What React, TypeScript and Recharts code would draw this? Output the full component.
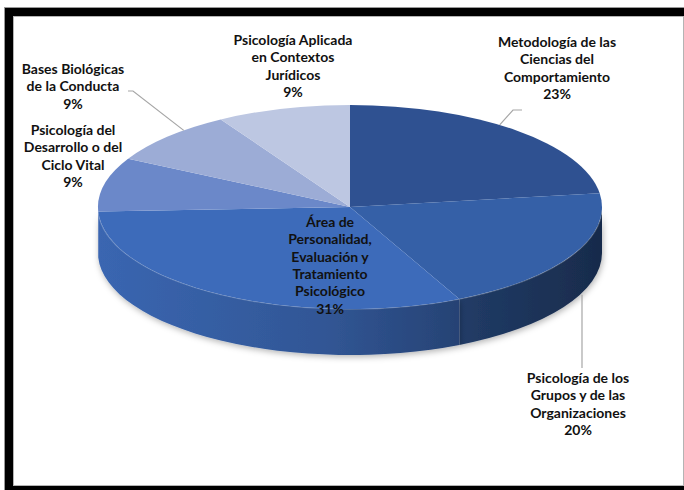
import React from "react";
import { PieChart, Pie, Cell } from "recharts";

// course areas, clockwise from 12 o'clock
const categories = [
  "Metodología de las Ciencias del Comportamiento",
  "Psicología de los Grupos y de las Organizaciones",
  "Área de Personalidad, Evaluación y Tratamiento Psicológico",
  "Psicología del Desarrollo o del Ciclo Vital",
  "Bases Biológicas de la Conducta",
  "Psicología Aplicada en Contextos Jurídicos",
];
const counts = [8, 7, 11, 3, 3, 3];
const labelLines = [
  ["Metodología de las", "Ciencias del", "Comportamiento"],
  ["Psicología de los", "Grupos y de las", "Organizaciones"],
  ["Área de", "Personalidad,", "Evaluación y", "Tratamiento", "Psicológico"],
  ["Psicología del", "Desarrollo o del", "Ciclo Vital"],
  ["Bases Biológicas", "de la Conducta"],
  ["Psicología Aplicada", "en Contextos", "Jurídicos"],
];
const colors = ["#2F5191", "#3560A7", "#3D6BBA", "#6B88C9", "#9CACD6", "#BDC7E2"];

const data = categories.map((name, i) => ({ name, value: counts[i] }));

// 3D look
const TILT = 102 / 252;
const DEPTH = 46;
const LINE_H = 17.3;

// label placement: text centre x, first line centre y,
// leader: angle nudge for the start on the rim + points after it
const LABEL_LAYOUT: { x: number; y: number; da?: number; leader?: number[][] | "down" }[] = [
  { x: 557, y: 42, da: 4.7, leader: [[513, 110], [522, 110]] },
  { x: 578, y: 378, da: 5.3, leader: "down" },
  { x: 330, y: 222 },
  { x: 73, y: 130 },
  { x: 73, y: 69, da: -5, leader: [[133, 91], [128, 91]] },
  { x: 293, y: 40 },
];

const rad = (a: number) => (a * Math.PI) / 180;
const pt = (cx: number, cy: number, r: number, a: number) => [
  cx + r * Math.cos(rad(a)),
  cy - r * TILT * Math.sin(rad(a)),
];

function shade(hex: string, k: number) {
  const n = parseInt(hex.slice(1), 16);
  const c = [(n >> 16) & 255, (n >> 8) & 255, n & 255].map((v) => Math.round(v * k));
  return `rgb(${c[0]},${c[1]},${c[2]})`;
}

function Slice(props: any) {
  const { cx, cy, outerRadius: r, startAngle, endAngle, fill } = props;
  const ry = r * TILT;
  const [x1, y1] = pt(cx, cy, r, startAngle);
  const [x2, y2] = pt(cx, cy, r, endAngle);
  const large = Math.abs(startAngle - endAngle) > 180 ? 1 : 0;
  const top = `M${cx},${cy} L${x1},${y1} A${r},${ry} 0 ${large} 1 ${x2},${y2} Z`;

  // front wall only where the rim faces us
  const hi = Math.min(startAngle, 0);
  const lo = Math.max(endAngle, -180);
  let wall = null;
  const gid = "wall" + String(fill).slice(1);
  if (hi > lo) {
    const [hx, hy] = pt(cx, cy, r, hi);
    const [lx, ly] = pt(cx, cy, r, lo);
    const d = `M${hx},${hy} A${r},${ry} 0 0 1 ${lx},${ly} L${lx},${ly + DEPTH} A${r},${ry} 0 0 0 ${hx},${hy + DEPTH} Z`;
    const rim = `M${hx},${hy} A${r},${ry} 0 0 1 ${lx},${ly}`;
    wall = (
      <g>
        <defs>
          <linearGradient id={gid} gradientUnits="userSpaceOnUse" x1={cx - r} y1={0} x2={cx + r} y2={0}>
            <stop offset="0" stopColor={shade(fill, 0.95)} />
            <stop offset="0.45" stopColor={shade(fill, 0.8)} />
            <stop offset="0.75" stopColor={shade(fill, 0.6)} />
            <stop offset="1" stopColor={shade(fill, 0.45)} />
          </linearGradient>
          <filter id={gid + "s"} x="-20%" y="-20%" width="140%" height="160%">
            <feDropShadow dx="1" dy="2" stdDeviation="3" floodColor="#000" floodOpacity="0.3" />
          </filter>
        </defs>
        <path d={d} fill={`url(#${gid})`} filter={`url(#${gid}s)`} />
        <path d={rim} fill="none" stroke="rgba(255,255,255,0.22)" strokeWidth={1.5} />
      </g>
    );
  }
  return (
    <g>
      {wall}
      <path d={top} fill={fill} />
    </g>
  );
}

function renderLabel(props: any) {
  const { index, percent, cx, cy, outerRadius: r, midAngle } = props;
  const lay = LABEL_LAYOUT[index];
  const lines = [...labelLines[index], `${Math.round(percent * 100)}%`];
  let leader = null;
  if (lay.leader) {
    const a = midAngle + (lay.da ?? 0);
    const [sx, sy0] = pt(cx, cy, r, a);
    const sy = Math.sin(rad(a)) < 0 ? sy0 + DEPTH + 2 : sy0;
    const pts =
      lay.leader === "down"
        ? [[sx, sy], [sx, lay.y - 10]]
        : [[sx, sy], ...lay.leader];
    leader = (
      <polyline
        points={pts.map((p) => p.join(",")).join(" ")}
        fill="none"
        stroke="#a6a6a6"
        strokeWidth={1.2}
      />
    );
  }
  return (
    <g key={`lbl${index}`}>
      {leader}
      <text
        x={lay.x}
        y={lay.y}
        textAnchor="middle"
        fontFamily="Lato, 'Open Sans', sans-serif"
        fontWeight={700}
        fontSize={14}
        fill="#111"
      >
        {lines.map((t, i) => (
          <tspan key={i} x={lay.x} y={lay.y + 5 + i * LINE_H}>
            {t}
          </tspan>
        ))}
      </text>
    </g>
  );
}

export default function App() {
  return (
    <div style={{ position: "absolute", left: 0, top: 0, width: 684, height: 490, overflow: "hidden" }}>
      <div
        style={{
          position: "absolute",
          left: 4,
          top: 7,
          width: 700,
          height: 500,
          background: "#000",
          borderLeft: "1px solid #999",
          borderTop: "1px solid #999",
        }}
      />
      <div
        style={{
          position: "absolute",
          left: 13,
          top: 16,
          width: 671,
          height: 470,
          boxSizing: "border-box",
          background: "#fff",
          border: "1px solid #b4b4b4",
        }}
      />
      <div style={{ position: "absolute", left: 0, top: 0 }}>
        <PieChart width={684} height={490} margin={{ top: 0, right: 0, bottom: 0, left: 0 }}>
          <Pie
            data={data}
            dataKey="value"
            nameKey="name"
            cx={350}
            cy={207}
            outerRadius={252}
            startAngle={90}
            endAngle={-270}
            stroke="none"
            shape={Slice}
            label={renderLabel}
            labelLine={false}
            isAnimationActive={false}
          >
            {data.map((d, i) => (
              <Cell key={d.name} fill={colors[i]} />
            ))}
          </Pie>
        </PieChart>
      </div>
    </div>
  );
}
